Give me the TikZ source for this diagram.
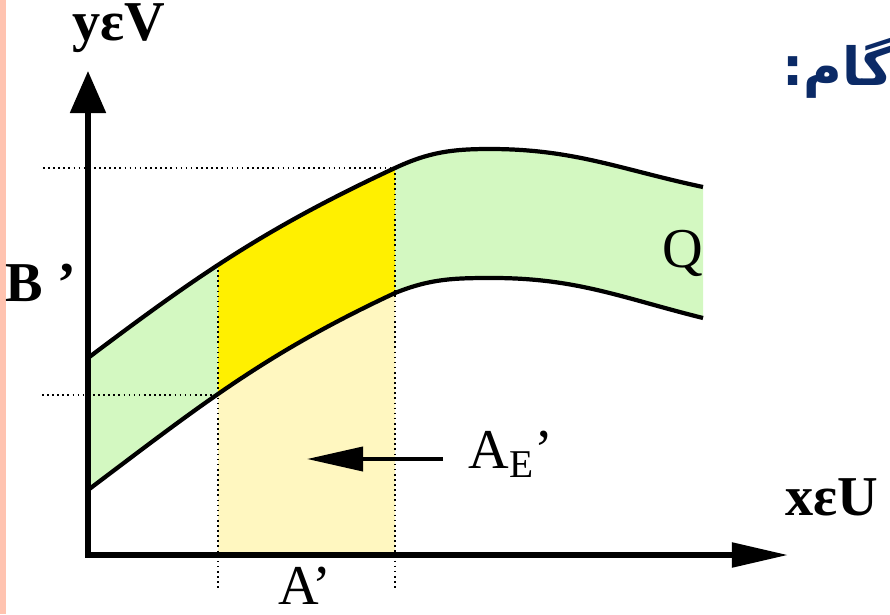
\documentclass[tikz,border=0pt]{standalone}
\usepackage{fontspec}
\setmainfont{Liberation Serif}
\newfontfamily\persfont[Script=Arabic]{DejaVu Sans}
\TeXXeTstate=1
\usepackage{xcolor}
\usepackage{tikz}
\usetikzlibrary{arrows.meta}
\definecolor{bandc}{HTML}{D3F8C1}
\definecolor{cellc}{HTML}{FFF000}
\definecolor{footc}{HTML}{FFF7C0}
\definecolor{edgec}{HTML}{FFC3B0}
\definecolor{navyc}{HTML}{0B2A66}
\tikzset{
  ax/.style={line width=1.5pt,{Triangle[length=5.6mm,width=2.4mm]}-{Triangle[length=4.2mm,width=3.5mm]}},
  crv/.style={line width=1.2pt,line join=round},
  guide/.style={line width=0.45pt,densely dotted},
  ptr/.style={-{Triangle[length=5.6mm,width=2.4mm]},line width=1.1pt},
  lab/.style={font=\fontsize{16}{18}\selectfont,inner sep=0pt},
  blab/.style={font=\fontsize{16}{18}\selectfont\bfseries,inner sep=0pt}
}
\begin{document}
\begin{tikzpicture}[x=0.01cm,y=0.01cm]
\useasboundingbox (0,0) rectangle (890,614);
\fill[edgec] (0,0) rectangle (6,614);
% band Q and the two shaded strips
\fill[bandc] (88,256) to[out=37,in=205] (395,446) to[out=25,in=180] (490,465) to[out=0,in=168] (703,427)
  -- (703,296) to[out=166,in=0] (493,336) to[out=180,in=22] (395,321) to[out=205,in=37] (88,124) -- cycle;
\begin{scope}
  \clip (218,0) rectangle (395,614);
  \fill[footc] (88,59) -- (88,124) to[out=37,in=205] (395,321) -- (395,59) -- cycle;
  \fill[cellc] (88,256) to[out=37,in=205] (395,446) -- (395,321) to[out=205,in=37] (88,124) -- cycle;
\end{scope}
\coordinate (O) at (88,59); \coordinate (ytip) at (88,543); \coordinate (xtip) at (788,59);
\coordinate (tl) at (218,349); \coordinate (tr) at (395,446);
\coordinate (bl) at (218,219); \coordinate (br) at (395,321);
\coordinate (bt) at (43,446); \coordinate (bb) at (42,219);
\coordinate (al) at (218,24); \coordinate (ar) at (395,24);
% guides
\draw[guide] (bt) -- (tr);
\draw[guide] (bb) -- (bl);
\draw[guide] (tl) -- (al);
\draw[guide] (tr) -- (ar);
% curves and axes
\draw[crv] (88,256) to[out=37,in=205] (tr) to[out=25,in=180] (490,465) to[out=0,in=168] (703,427);
\draw[crv] (88,124) to[out=37,in=205] (br) to[out=22,in=180] (493,336) to[out=0,in=166] (703,296);
\draw[ax] (xtip) -- (O) -- (ytip);
% labels
\node[blab] (ylab) at (119,586) {yεV};
\node[blab] (xlab) at (832,117) {xεU};
\node[blab] (blab) at (41,331) {B ’};
\node[lab] (qlab) at (683,361) {Q};
\node[lab] (alab) at (305,28) {A’};
\node[lab,inner sep=7pt] (aelab) at (511,160) {A\textsubscript{E}’};
\coordinate (aetip) at (307,155);
\draw[ptr] (aelab.west |- aetip) -- (aetip);
\node[font=\persfont\bfseries\fontsize{15}{18}\selectfont,text=navyc] (gam) at (838,546) {\beginR گام:\endR};
\end{tikzpicture}
\end{document}
